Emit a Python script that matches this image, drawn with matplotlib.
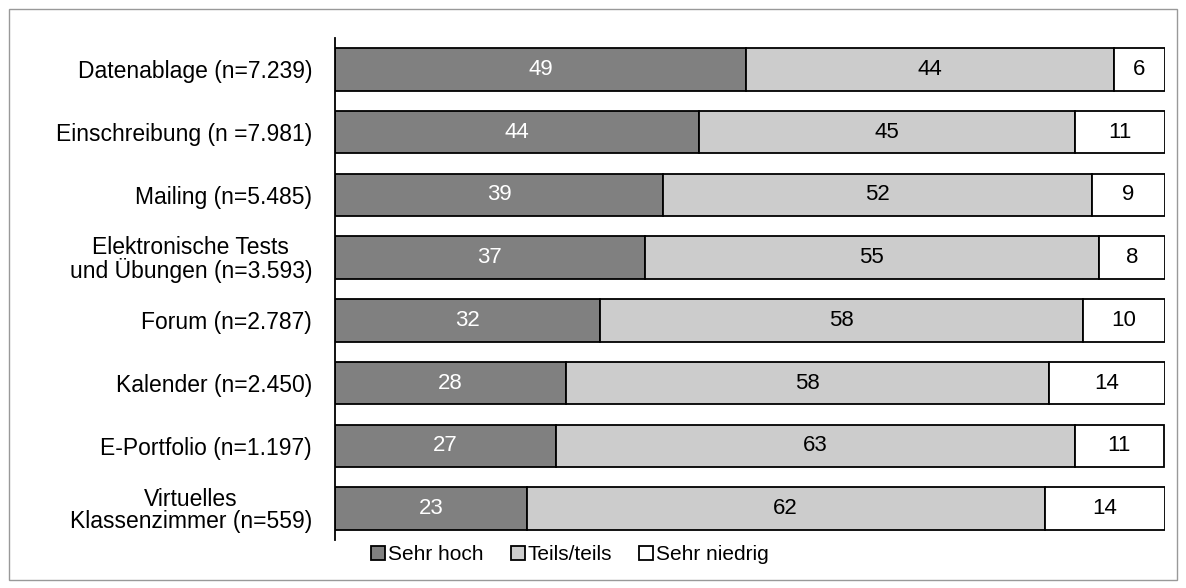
import matplotlib.pyplot as plt
from matplotlib.patches import Rectangle

plt.rcParams['font.family'] = ['Liberation Sans', 'DejaVu Sans']

# Kategorien (von oben nach unten)
kategorien = [
    'Datenablage (n=7.239)',
    'Einschreibung (n =7.981)',
    'Mailing (n=5.485)',
    'Elektronische Tests\nund Übungen (n=3.593)',
    'Forum (n=2.787)',
    'Kalender (n=2.450)',
    'E-Portfolio (n=1.197)',
    'Virtuelles\nKlassenzimmer (n=559)',
]

# Anteile in % (aus der Grafik geschätzt)
sehr_hoch = [49.5, 43.9, 39.5, 37.3, 31.9, 27.8, 26.6, 23.1]
teils = [44.3, 45.3, 51.7, 54.7, 58.2, 58.2, 62.5, 62.4]
sehr_niedrig = [6.2, 10.8, 8.8, 8.0, 9.9, 14.0, 10.8, 14.5]

# Beschriftungen (gerundet)
lab_hoch = [49, 44, 39, 37, 32, 28, 27, 23]
lab_teils = [44, 45, 52, 55, 58, 58, 63, 62]
lab_niedrig = [6, 11, 9, 8, 10, 14, 11, 14]

serien = [
    ('Sehr hoch', sehr_hoch, lab_hoch, '#808080', 'white'),
    ('Teils/teils', teils, lab_teils, '#cccccc', 'black'),
    ('Sehr niedrig', sehr_niedrig, lab_niedrig, 'white', 'black'),
]

fig = plt.figure(figsize=(11.86, 5.88), dpi=100)
ax = fig.add_axes([335 / 1186, 1 - 540 / 588, 830 / 1186, 502 / 588])

y = list(range(len(kategorien)))
links = [0] * len(kategorien)
for name, werte, labels, farbe, tfarbe in serien:
    bars = ax.barh(y, werte, left=links, height=0.68, color=farbe,
                   edgecolor='black', linewidth=1.3, label=name)
    for b, l in zip(bars, labels):
        ax.text(b.get_x() + b.get_width() / 2, b.get_y() + b.get_height() / 2,
                str(l), ha='center', va='center', color=tfarbe, fontsize=16)
    links = [a + b for a, b in zip(links, werte)]

ax.set_xlim(0, 100)
ax.set_ylim(len(kategorien) - 0.5, -0.5)
ax.set_yticks(y)
ax.set_yticklabels(kategorien, fontsize=16.5, linespacing=0.95)
for t in ax.get_yticklabels():
    t.set_multialignment('center')
ax.tick_params(axis='y', length=0, pad=16.5)
ax.set_xticks([])
for s in ['top', 'right', 'bottom']:
    ax.spines[s].set_visible(False)
ax.spines['left'].set_linewidth(1.3)

fig.legend(loc='center left', bbox_to_anchor=(371 / 1186, 1 - 555 / 588),
           ncol=3, frameon=False, fontsize=15, handlelength=0.67,
           handleheight=0.67, handletextpad=0.15, columnspacing=1.3,
           borderaxespad=0, borderpad=0)

# grauer Rahmen
fig.patches.append(Rectangle((9 / 1186, 8 / 588), 1168 / 1186, 571 / 588,
                             transform=fig.transFigure, fill=False,
                             edgecolor='#999999', linewidth=1))

fig.savefig('out.png', dpi=100)
